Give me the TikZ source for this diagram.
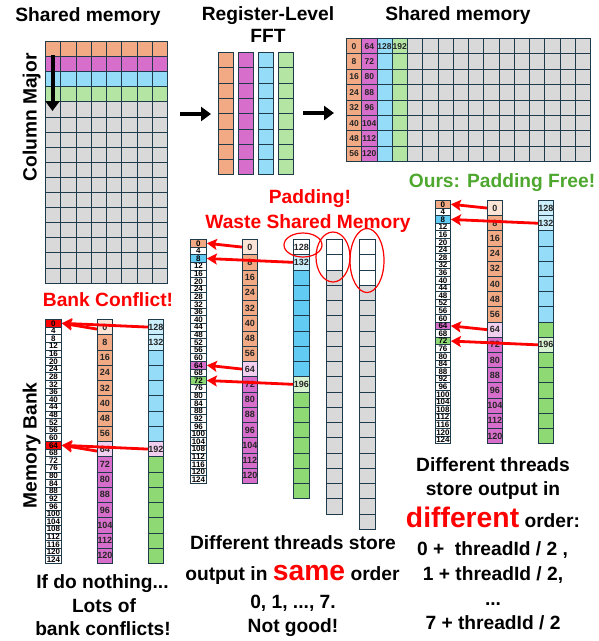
\documentclass[tikz,border=0pt]{standalone}
\usepackage{fontspec}
\setmainfont{Liberation Sans}
\usetikzlibrary{arrows.meta,shapes.geometric}

\definecolor{cOr}{HTML}{F2AA84}
\definecolor{cMa}{HTML}{D86ECC}
\definecolor{cBl}{HTML}{94DCF8}
\definecolor{cBd}{HTML}{61CBF3}
\definecolor{cGr}{HTML}{B4E5A2}
\definecolor{cGd}{HTML}{8ED973}
\definecolor{cGy}{HTML}{D9D9D9}
\definecolor{cOrL}{HTML}{FBE3D6}
\definecolor{cMaL}{HTML}{F2CFEE}
\definecolor{cBlL}{HTML}{CAEEFB}
\definecolor{cGrL}{HTML}{D9F2D0}
\definecolor{cLine}{HTML}{1F3A4A}
\definecolor{cRed}{HTML}{FF0000}
\definecolor{cGreenTxt}{HTML}{4EA72E}

\tikzset{
  cell/.style={draw=cLine, line width=0.9pt, inner sep=0pt, anchor=north west,
    font=\bfseries\fontsize{9}{9}\selectfont, text=black!85},
  bankcell/.style={cell, fill=white, font=\bfseries\fontsize{8}{8}\selectfont, text=black},
  celltxt/.style={inner sep=0pt, font=\bfseries\fontsize{8.5}{8.5}\selectfont, text=black!85},
  ttl/.style={inner sep=0pt, anchor=base, font=\bfseries\fontsize{19.2}{22}\selectfont},
  note/.style={ttl},
  redarr/.style={draw=cRed, line width=2.8pt, -{Stealth[length=10pt,width=11pt,inset=2pt]}},
  blkarr/.style={draw=black, line width=4pt, -{Triangle[length=10pt,width=14pt]}},
  padring/.style={draw=cRed, line width=1.2pt, ellipse, inner sep=0pt},
}

% a column of 32 memory-bank rows labelled 0,4,...,124
% #1 name, #2 x, #3 y, #4 width, #5 row height
\newcommand\bankstack[5]{%
  \foreach \i in {0,...,31}{%
    \pgfmathtruncatemacro\lab{4*\i}%
    \node[bankcell, minimum width=#4, minimum height=#5] (#1-\i) at (#2,{#3+\i*#5}) {\lab};}}
% repaint one bank row: #1 name, #2 x, #3 y, #4 width, #5 row height, #6 index, #7 fill
\newcommand\bankmark[7]{%
  \pgfmathtruncatemacro\lab{4*#6}%
  \node[bankcell, fill=#7, minimum width=#4, minimum height=#5] (#1-#6) at (#2,{#3+#6*#5}) {\lab};}
% a column of cells from a list fill/label
\newcommand\cellstack[6]{%
  \foreach \fc/\lab [count=\i from 0] in {#6}{%
    \node[cell, fill=\fc, minimum width=#4, minimum height=#5] (#1-\i) at (#2,{#3+\i*#5}) {\lab};}}

\begin{document}
\begin{tikzpicture}[x=1pt,y=-1pt]
\useasboundingbox (0,0) rectangle (599,641);

% ---------- titles ----------
\node[ttl] (tSM1) at (88,21) {Shared memory};
\node[ttl] (tReg) at (268,20) {Register-Level};
\node[ttl] (tFFT) at (268,42) {FFT};
\node[ttl] (tSM2) at (458,20) {Shared memory};
\node[ttl, rotate=90] (tCol) at (36.5,117.5) {Column Major};
\node[ttl, rotate=90] (tBank) at (36.5,445.5) {Memory Bank};

% ---------- shared memory, column major ----------
\foreach \fc [count=\r from 0] in {cOr,cMa,cBl,cGr,cGy,cGy,cGy,cGy,cGy,cGy,cGy,cGy,cGy,cGy,cGy,cGy}
  \foreach \c in {0,...,7}
    \node[cell, fill=\fc, minimum width=15.25, minimum height=15.1] (ga-\r-\c) at ({45+\c*15.25},{41+\r*15.1}) {};
\coordinate (dA) at (52.5,55);
\coordinate (dB) at (52.5,111);
\draw[blkarr] (dA) -- (dB);

% ---------- registers ----------
\foreach \fc [count=\k from 0] in {cOr,cMa,cBl,cGr}
  \foreach \r in {0,...,7}
    \node[cell, fill=\fc, minimum width=15, minimum height=15.3] (rg-\k-\r) at ({218.3+\k*20},{52+\r*15.3}) {};

\coordinate (hA1) at (180,114);
\coordinate (hB1) at (211,114);
\draw[blkarr] (hA1) -- (hB1);
\coordinate (hA2) at (303,113);
\coordinate (hB2) at (334,113);
\draw[blkarr] (hA2) -- (hB2);

% ---------- shared memory after FFT ----------
\foreach \r in {0,...,7}{%
  \pgfmathtruncatemacro\la{8*\r}%
  \pgfmathtruncatemacro\lb{64+8*\r}%
  \node[cell, fill=cOr, minimum width=15.25, minimum height=15.4, font=\bfseries\fontsize{8.5}{8.5}\selectfont] (gb-\r-0) at (346,{38+\r*15.4}) {\la};
  \node[cell, fill=cMa, minimum width=15.25, minimum height=15.4, font=\bfseries\fontsize{8.5}{8.5}\selectfont] (gb-\r-1) at (361.25,{38+\r*15.4}) {\lb};
  \node[cell, fill=cBl, minimum width=15.25, minimum height=15.4] (gb-\r-2) at (376.5,{38+\r*15.4}) {};
  \node[cell, fill=cGr, minimum width=15.25, minimum height=15.4] (gb-\r-3) at (391.75,{38+\r*15.4}) {};
  \foreach \c in {4,...,15}
    \node[cell, fill=cGy, minimum width=15.25, minimum height=15.4] (gb-\r-\c) at ({346+\c*15.25},{38+\r*15.4}) {};
}
\node[celltxt] (l128) at (gb-0-2.center) {128};
\node[celltxt] (l192) at (gb-0-3.center) {192};

% ---------- left: bank conflicts ----------
\node[ttl, text=cRed] (tBC) at (108,306) {Bank Conflict!};
\bankstack{bl}{45}{319}{16}{7.625}
\bankmark{bl}{45}{319}{16}{7.625}{0}{cRed}
\bankmark{bl}{45}{319}{16}{7.625}{16}{cRed}
\cellstack{dl}{97}{319}{15}{15.25}{cOrL/0,cOr/8,cOr/16,cOr/24,cOr/32,cOr/40,cOr/48,cOr/56,cMaL/64,cMa/72,cMa/80,cMa/88,cMa/96,cMa/104,cMa/112,cMa/120}
\cellstack{el}{148}{319}{15}{15.25}{cBlL/128,cBlL/132,cBl/{},cBl/{},cBl/{},cBl/{},cBl/{},cBl/{},cMaL/192,cGd/{},cGd/{},cGd/{},cGd/{},cGd/{},cGd/{},cGd/{}}
\draw[redarr] (el-0.west) -- (bl-0.east);
\draw[redarr] ([yshift=-2pt]dl-0.west) -- (bl-0.east);
\draw[redarr] (el-8.west) -- (bl-16.east);
\draw[redarr] ([yshift=-2pt]dl-8.west) -- (bl-16.east);

% ---------- middle: padding ----------
\node[ttl, text=cRed] (tPad) at (310,203) {Padding!};
\node[ttl, text=cRed] (tWaste) at (308,228) {Waste Shared Memory};
\bankstack{bm}{190}{239}{16}{7.625}
\bankmark{bm}{190}{239}{16}{7.625}{0}{cOr}
\bankmark{bm}{190}{239}{16}{7.625}{2}{cBd}
\bankmark{bm}{190}{239}{16}{7.625}{16}{cMa}
\bankmark{bm}{190}{239}{16}{7.625}{18}{cGd}
\cellstack{dm}{242}{239}{15}{15.25}{cOrL/0,cOr/8,cOr/16,cOr/24,cOr/32,cOr/40,cOr/48,cOr/56,cMaL/64,cMa/72,cMa/80,cMa/88,cMa/96,cMa/104,cMa/112,cMa/120}
\cellstack{em}{293}{239}{16}{15.25}{white/128,cBlL/132,cBd/{},cBd/{},cBd/{},cBd/{},cBd/{},cBd/{},cBd/{},cGrL/196,cGd/{},cGd/{},cGd/{},cGd/{},cGd/{},cGd/{},cGd/{}}
\cellstack{fm}{326}{239}{16}{15.25}{white/{},white/{},cGy/{},cGy/{},cGy/{},cGy/{},cGy/{},cGy/{},cGy/{},cGy/{},cGy/{},cGy/{},cGy/{},cGy/{},cGy/{},cGy/{},cGy/{},cGy/{}}
\cellstack{gm}{359}{239}{16}{15.25}{white/{},white/{},white/{},cGy/{},cGy/{},cGy/{},cGy/{},cGy/{},cGy/{},cGy/{},cGy/{},cGy/{},cGy/{},cGy/{},cGy/{},cGy/{},cGy/{},cGy/{},cGy/{}}
\node[padring, minimum width=38, minimum height=24] (ring1) at (303,245) {};
\node[padring, minimum width=34, minimum height=50] (ring2) at (333,257) {};
\node[padring, minimum width=34, minimum height=64] (ring3) at (367,260.5) {};
\draw[redarr] (dm-0.west) -- (bm-0.east);
\draw[redarr] (em-1.west) -- (bm-2.east);
\draw[redarr] (dm-8.west) -- (bm-16.east);
\draw[redarr] (em-9.west) -- (bm-18.east);

% ---------- right: padding free ----------
\node[ttl, text=cGreenTxt] (tOurs) at (502,187) {Ours: Padding Free!};
\bankstack{br}{435}{200}{15}{7.6}
\bankmark{br}{435}{200}{15}{7.6}{0}{cOr}
\bankmark{br}{435}{200}{15}{7.6}{2}{cBd}
\bankmark{br}{435}{200}{15}{7.6}{16}{cMa}
\bankmark{br}{435}{200}{15}{7.6}{18}{cGd}
\cellstack{dr}{487}{200}{15}{15.2}{cOrL/0,cOr/8,cOr/16,cOr/24,cOr/32,cOr/40,cOr/48,cOr/56,cMaL/64,cMa/72,cMa/80,cMa/88,cMa/96,cMa/104,cMa/112,cMa/120}
\cellstack{er}{538}{200}{15}{15.2}{cBlL/128,cBlL/132,cBl/{},cBl/{},cBl/{},cBl/{},cBl/{},cBl/{},cGd/{},cGrL/196,cGd/{},cGd/{},cGd/{},cGd/{},cGd/{},cGd/{}}
\draw[redarr] (dr-0.west) -- (br-0.east);
\draw[redarr] (er-1.west) -- (br-2.east);
\draw[redarr] (dr-8.west) -- (br-16.east);
\draw[redarr] (er-9.west) -- (br-18.east);

% ---------- captions ----------
\newcommand\emphred[1]{{\color{cRed}\fontsize{28.3}{30}\selectfont #1}}
\node[note] (nL1) at (102.5,588) {If do nothing...};
\node[note] (nL2) at (104,612) {Lots of};
\node[note] (nL3) at (103,635) {bank conflicts!};

\node[note] (nM1) at (293,549) {Different threads store};
\node[note] (nM2) at (292.5,580) {output in \emphred{same} order};
\node[note] (nM3) at (293,608) {0, 1, ..., 7.};
\node[note] (nM4) at (293,632) {Not good!};

\node[note] (nR1) at (493,471) {Different threads};
\node[note] (nR2) at (493,495) {store output in};
\node[note] (nR3) at (493,527) {\emphred{different} order:};
\node[note] (nR4) at (492.5,555) {0 +\ \ threadId / 2 ,};
\node[note] (nR5) at (493,580) {1 + threadId / 2,};
\node[note] (nR6) at (493,605) {...};
\node[note] (nR7) at (493,629) {7 + threadId / 2};
\end{tikzpicture}
\end{document}
